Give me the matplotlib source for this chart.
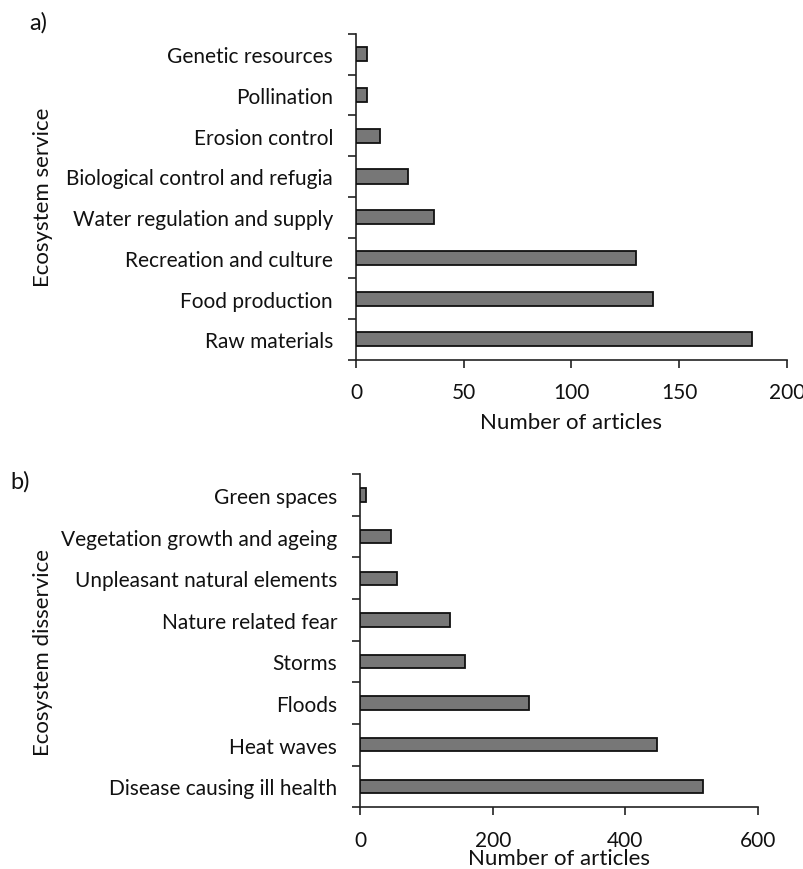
import numpy as np
import matplotlib
matplotlib.use("Agg")
import matplotlib.pyplot as plt

plt.rcParams["font.family"] = ["Lato", "DejaVu Sans"]

# Panel a: ecosystem services
services = [
    "Raw materials",
    "Food production",
    "Recreation and culture",
    "Water regulation and supply",
    "Biological control and refugia",
    "Erosion control",
    "Pollination",
    "Genetic resources",
]
service_counts = [184, 138, 130, 36, 24, 11, 5, 5]
service_ticks = [0, 50, 100, 150, 200]

# Panel b: ecosystem disservices
disservices = [
    "Disease causing ill health",
    "Heat waves",
    "Floods",
    "Storms",
    "Nature related fear",
    "Unpleasant natural elements",
    "Vegetation growth and ageing",
    "Green spaces",
]
disservice_counts = [518, 448, 255, 158, 136, 55, 47, 8]
disservice_ticks = [0, 200, 400, 600]

BAR_COLOR = "#777777"
TEXT_COLOR = "#111111"
FS = 15


def bar_panel(ax, labels, values, xticks, ylabel, bar_h, xlabelpad):
    pos = np.arange(len(labels))
    ax.barh(pos, values, height=bar_h, color=BAR_COLOR,
            edgecolor="#111111", linewidth=1.3, zorder=3)
    ax.set_xlim(xticks[0], xticks[-1])
    ax.set_ylim(-0.5, len(labels) - 0.5)

    # tick marks sit between categories, names at category centres
    ax.set_yticks(np.arange(len(labels) + 1) - 0.5)
    ax.set_yticklabels([])
    ax.set_yticks(pos, minor=True)
    ax.set_yticklabels(labels, minor=True, fontsize=FS, color=TEXT_COLOR)
    ax.tick_params(axis="y", which="minor", length=0, pad=16.5)
    ax.tick_params(axis="y", which="major", direction="out", length=6,
                   width=1.2, color="#222222")

    ax.set_xticks(xticks)
    ax.tick_params(axis="x", direction="out", length=6, width=1.2,
                   color="#222222", labelsize=FS, labelcolor=TEXT_COLOR, pad=10)

    for side in ("top", "right"):
        ax.spines[side].set_visible(False)
    for side in ("left", "bottom"):
        ax.spines[side].set_linewidth(1.2)
        ax.spines[side].set_color("#222222")

    ax.set_xlabel("Number of articles", fontsize=FS + 1, color=TEXT_COLOR,
                  labelpad=xlabelpad)
    ax.set_ylabel(ylabel, fontsize=FS + 1, color=TEXT_COLOR)


fig = plt.figure(figsize=(8.04, 8.7), dpi=100)

ax_a = fig.add_axes([0.4428, 0.5854, 0.5357, 0.3744])
bar_panel(ax_a, services, service_counts, service_ticks,
          "Ecosystem service", 0.35, 7)

ax_b = fig.add_axes([0.4481, 0.0709, 0.4942, 0.3831])
bar_panel(ax_b, disservices, disservice_counts, disservice_ticks,
          "Ecosystem disservice", 0.32, -1)

ax_a.yaxis.set_label_coords(-0.7035, 0.5026)
ax_b.yaxis.set_label_coords(-0.7735, 0.469)

fig.text(29 / 804, 1 - 23 / 870, "a)", fontsize=FS + 2, color=TEXT_COLOR,
         va="center", ha="left")
fig.text(10 / 804, 1 - 482 / 870, "b)", fontsize=FS + 2, color=TEXT_COLOR,
         va="center", ha="left")

fig.savefig("out.png", dpi=100)
